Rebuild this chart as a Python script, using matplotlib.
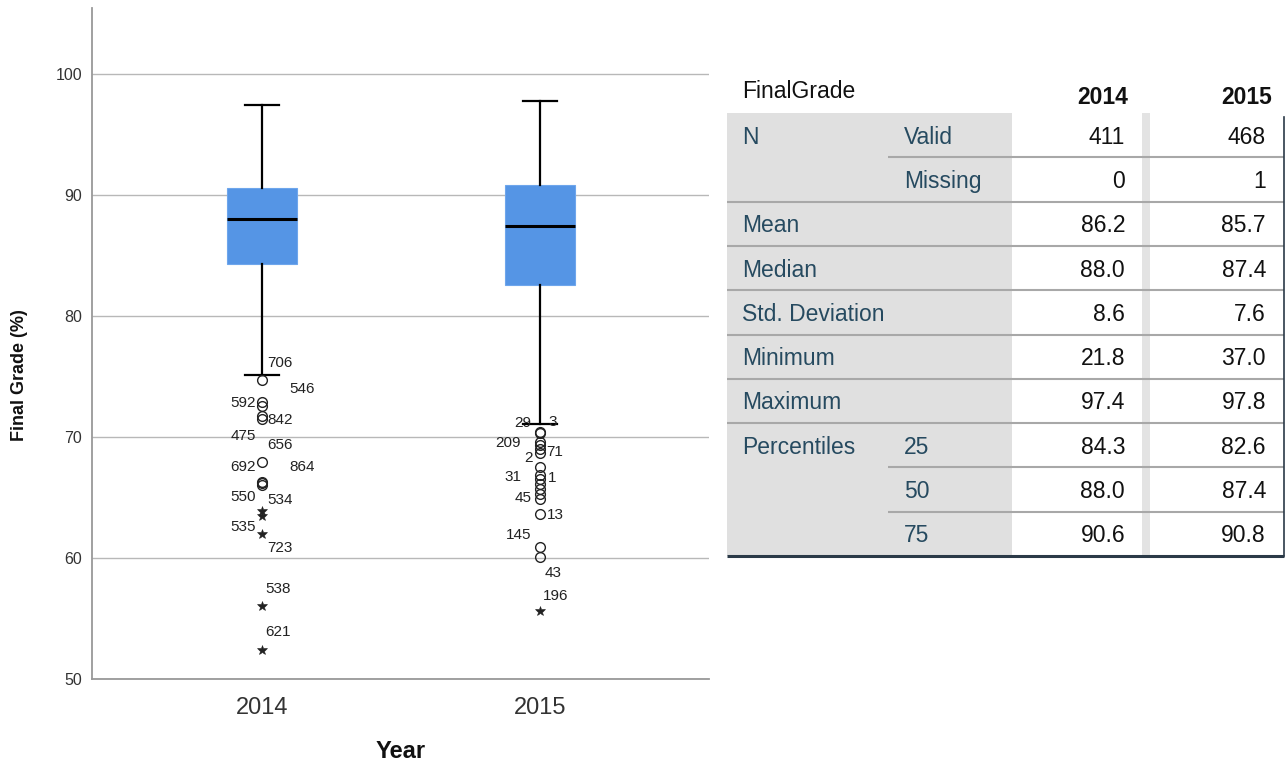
import matplotlib
matplotlib.use("Agg")
import matplotlib.pyplot as plt
from matplotlib.patches import Rectangle

plt.rcParams['font.family'] = ['Liberation Sans', 'DejaVu Sans']

# ---- summary statistics for FinalGrade by year ----
years = ["2014", "2015"]
n_valid = [411, 468]
n_missing = [0, 1]
mean = [86.2, 85.7]
median = [88.0, 87.4]
std_dev = [8.6, 7.6]
minimum = [21.8, 37.0]
maximum = [97.4, 97.8]
q1 = [84.3, 82.6]
q3 = [90.6, 90.8]
whisker_low = [75.1, 71.1]

# ---- outliers (circles) and extreme values (stars), with case ids ----
out14_vals = [74.7, 72.9, 72.6, 71.7, 71.5, 67.9, 66.3, 66.2, 66.0]
out14_ids = ["706", "546", "592", "842", "475", "656", "692", "864", "550"]
ext14_vals = [63.9, 63.5, 62.0, 56.0, 52.4]
ext14_ids = ["534", "535", "723", "538", "621"]

out15_vals = [70.4, 70.3, 69.6, 69.3, 69.0, 68.7, 67.5, 66.9, 66.5,
              66.1, 65.7, 65.3, 64.9, 63.6, 60.9, 60.1]
out15_ids = ["29", "3", "209", "2", "71", "", "", "31", "1",
             "", "", "", "45", "13", "145", "43"]
ext15_vals = [55.6]
ext15_ids = ["196"]

# label placement (pixel offsets from each point: right, up)
out14_off = [(18, 17), (40, 13), (-19, 3), (18, -4), (-19, -17),
             (18, 17), (-19, 15), (40, 16), (-19, -12)]
ext14_off = [(18, 11), (-19, -11), (18, -14), (16, 17), (16, 18)]
out15_off = [(-17, 9), (13, 11), (-32, -1), (-12, -13), (15, -3), (0, 0), (0, 0),
             (-27, -2), (12, 1), (0, 0), (0, 0), (0, 0), (-17, 1), (15, -1),
             (-21, 12), (13, -16)]
ext15_off = [(16, 15)]

W, H = 1286, 764
fig = plt.figure(figsize=(W / 100, H / 100), dpi=100)

ax = fig.add_axes([92 / W, (H - 679) / H, 617 / W, 671 / H])
positions = [1, 2]
stats = []
for i in range(2):
    stats.append(dict(label=years[i], q1=q1[i], med=median[i], q3=q3[i],
                      whislo=whisker_low[i], whishi=maximum[i], fliers=[]))
ax.bxp(stats, positions=positions, widths=0.25, patch_artist=True,
       showfliers=False,
       boxprops=dict(facecolor="#5595e5", edgecolor="#6ea6ec", linewidth=0.8),
       medianprops=dict(color="black", linewidth=2.2),
       whiskerprops=dict(color="black", linewidth=1.6),
       capprops=dict(color="black", linewidth=1.6))

groups = [
    (positions[0], out14_vals, out14_ids, out14_off, "o"),
    (positions[0], ext14_vals, ext14_ids, ext14_off, "*"),
    (positions[1], out15_vals, out15_ids, out15_off, "o"),
    (positions[1], ext15_vals, ext15_ids, ext15_off, "*"),
]
for xpos, vals, ids, offs, mk in groups:
    xs = [xpos] * len(vals)
    if mk == "o":
        ax.plot(xs, vals, linestyle="none", marker="o", markersize=7,
                markerfacecolor="none", markeredgecolor="#222222",
                markeredgewidth=1.0, zorder=4)
    else:
        ax.plot(xs, vals, linestyle="none", marker="*", markersize=7.5,
                color="#222222", markeredgewidth=0.4, zorder=4)
    for v, lab, (dx, dy) in zip(vals, ids, offs):
        if lab:
            ax.annotate(lab, (xpos, v), xytext=(dx, dy),
                        textcoords="offset pixels", ha="center", va="center",
                        fontsize=11, color="#222222", zorder=5)

ax.set_xlim(0.388, 2.608)
ax.set_ylim(50, 100 + 66 / 12.1)
ax.set_yticks([50, 60, 70, 80, 90, 100])
ax.set_xticks(positions)
ax.set_xticklabels(years)
ax.yaxis.grid(True, color="#b8b8b8", linewidth=1.0)
ax.set_axisbelow(True)
ax.tick_params(axis="both", length=0)
ax.tick_params(axis="y", labelsize=11.5, labelcolor="#333333", pad=7)
ax.tick_params(axis="x", labelsize=17, labelcolor="#333333", pad=13)
for s in ("top", "right"):
    ax.spines[s].set_visible(False)
for s in ("left", "bottom"):
    ax.spines[s].set_color("#999999")
    ax.spines[s].set_linewidth(1.3)

ax.set_xlabel("Year", fontsize=17, fontweight="bold", color="#111111")
ax.xaxis.set_label_coords(0.5, (679 - 740) / 671)
ax.set_ylabel("Final Grade (%)", fontsize=13, fontweight="bold",
              color="#111111", va="center")
ax.yaxis.set_label_coords((20 - 92) / 617, (679 - 375) / 671)

# ---- statistics table drawn in pixel space ----
tb = fig.add_axes([0, 0, 1, 1])
tb.set_xlim(0, W)
tb.set_ylim(H, 0)
tb.axis("off")
tb.patch.set_alpha(0)

x0, xsub, xgray, sep0, sep1, x1 = 727, 888, 1012, 1142, 1150, 1284
top, rh = 113, 44.3
nrows = 10
bottom = top + rh * nrows
label_col = "#264a60"
grid_col = "#a8a8a8"

tb.add_patch(Rectangle((x0, top), xgray - x0, bottom - top,
                       facecolor="#e0e0e0", edgecolor="none"))
tb.add_patch(Rectangle((sep0, top), sep1 - sep0, bottom - top,
                       facecolor="#e3e3e3", edgecolor="none"))

fmt = lambda v: f"{v:.1f}"
rows = [
    ("N", "Valid", [str(v) for v in n_valid]),
    ("", "Missing", [str(v) for v in n_missing]),
    ("Mean", "", [fmt(v) for v in mean]),
    ("Median", "", [fmt(v) for v in median]),
    ("Std. Deviation", "", [fmt(v) for v in std_dev]),
    ("Minimum", "", [fmt(v) for v in minimum]),
    ("Maximum", "", [fmt(v) for v in maximum]),
    ("Percentiles", "25", [fmt(v) for v in q1]),
    ("", "50", [fmt(v) for v in median]),
    ("", "75", [fmt(v) for v in q3]),
]
sub_line_rows = {1, 8, 9}
fs = 16.5
for r, (lab, sub, vals) in enumerate(rows):
    yc = top + rh * r + rh / 2 + 2
    if lab:
        tb.text(742, yc, lab, ha="left", va="center", fontsize=fs, color=label_col)
    if sub:
        tb.text(904, yc, sub, ha="left", va="center", fontsize=fs, color=label_col)
    tb.text(1125, yc, vals[0], ha="right", va="center", fontsize=fs, color="#111111")
    tb.text(1266, yc, vals[1], ha="right", va="center", fontsize=fs, color="#111111")
    if r > 0:
        ly = top + rh * r
        start = xsub if r in sub_line_rows else x0
        tb.plot([start, x1], [ly, ly], color=grid_col, linewidth=1.5,
                solid_capstyle="butt")

tb.plot([x0, x1], [bottom, bottom], color="#2b3a48", linewidth=2.2,
        solid_capstyle="butt")
tb.plot([x1, x1], [top + 4, bottom], color="#2b3a48", linewidth=1.2)

tb.text(742, 92, "FinalGrade", ha="left", va="center", fontsize=fs, color="#111111")
tb.text(1128, 97, years[0], ha="right", va="center", fontsize=fs,
        fontweight="bold", color="#111111")
tb.text(1272, 97, years[1], ha="right", va="center", fontsize=fs,
        fontweight="bold", color="#111111")

fig.savefig("out.png", dpi=100)
